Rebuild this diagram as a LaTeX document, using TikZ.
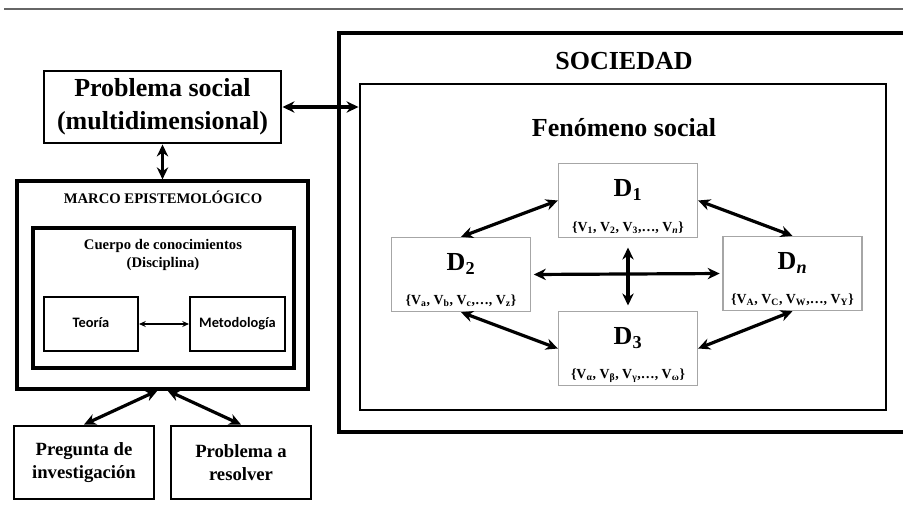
\documentclass[tikz,border=0pt]{standalone}
\usepackage{fontspec}
\setmainfont{Liberation Serif}
\newfontfamily\calfont{Carlito}
\usetikzlibrary{arrows.meta,calc}

\tikzset{every picture/.style={line width=0.75pt}}
\tikzset{
  heavybox/.style={draw, line width=2.2pt, inner sep=0pt, align=center},
  dimbox/.style={draw=black!35, line width=1pt, inner sep=0pt, minimum width=104.25pt, minimum height=55.5pt},
  bigtext/.style={inner sep=0pt, align=center, font=\fontsize{19.5}{24.75}\selectfont\bfseries},
  midtext/.style={inner sep=0pt, align=center, font=\fontsize{11}{13.5}\selectfont\bfseries},
  settext/.style={inner sep=0pt, font=\fontsize{10.4}{12.5}\selectfont\bfseries},
  smallbox/.style={heavybox, line width=1.6pt, minimum height=40.5pt, text height=1.6ex, text depth=0.5ex, font=\calfont\fontsize{10.8}{13}\selectfont\bfseries},
  twoway/.style={{Stealth[length=9pt,width=8.5pt]}-{Stealth[length=9pt,width=8.5pt]}, line width=2.4pt},
  thinway/.style={{Stealth[length=5pt,width=4.5pt]}-{Stealth[length=5pt,width=4.5pt]}, line width=1pt}
}

\begin{document}
\begin{tikzpicture}[x=0.75pt,y=0.75pt,yscale=-1,xscale=1]
\useasboundingbox (0,0) rectangle (903,515);

%Straight Lines: top rule
\draw [color=black!60, line width=1.5pt] (4,9) -- (903,9) ;

%Shape: Rectangle (left column)
\node [heavybox, minimum width=177.75pt, minimum height=54pt, font=\fontsize{19.5}{24.75}\selectfont\bfseries] (prob) at (162.5,107) {Problema social\\(multidimensional)};
\node [heavybox, line width=2.4pt, minimum width=218.25pt, minimum height=156pt] (marco) at (162.5,285) {};
\node [heavybox, line width=2.4pt, minimum width=195.75pt, minimum height=105pt] (cuerpo) at (163.5,298) {};
\node [smallbox, minimum width=70.5pt] (teoria) at (91,324) {Teoría};
\node [smallbox, minimum width=71.25pt] (metodo) at (237.5,324) {Metodología};
\node [heavybox, minimum width=105pt, minimum height=54.75pt, font=\fontsize{14}{17.25}\selectfont\bfseries] (pregunta) at (84,462.5) {Pregunta de\\investigación};
\node [heavybox, minimum width=105pt, minimum height=54.75pt, font=\fontsize{14}{17.25}\selectfont\bfseries] (resolver) at (241,462.5) {Problema a\\resolver};

% Text Node
\node [midtext] (marcot) at (163,197) {MARCO EPISTEMOLÓGICO};
% Text Node
\node [midtext] (cuerpot) at (163,255) {Cuerpo de conocimientos\\(Disciplina)};

%Shape: Rectangle (right side)
\node [heavybox, line width=2.8pt, minimum width=426pt, minimum height=299.25pt] (sociedad) at (623,232.5) {};
\node [heavybox, minimum width=394.5pt, minimum height=244.5pt] (fenomeno) at (623,247) {};

% Text Node
\node [bigtext] (sociedadt) at (624,61) {SOCIEDAD};
% Text Node
\node [bigtext] (fenomenot) at (624,128) {Fenómeno social};

%Shape: Rectangle (dimensiones)
\node [dimbox] (d1) at (628,200.5) {};
\node [dimbox] (d2) at (461,274.5) {};
\node [dimbox] (dn) at (792.5,273.5) {};
\node [dimbox] (d3) at (628,348.5) {};

% Text Node
\node [bigtext] (d1t) at (628,190) {D\textsubscript{1}};
\node [settext] (d1v) at (628,228) {\{V\textsubscript{1}, V\textsubscript{2}, V\textsubscript{3},…, V\textsubscript{\textit{n}}\}};
\node [bigtext] (d2t) at (461,264) {D\textsubscript{2}};
\node [settext] (d2v) at (461,301) {\{V\textsubscript{a}, V\textsubscript{b}, V\textsubscript{c},…, V\textsubscript{z}\}};
\node [bigtext] (dnt) at (792.5,263) {D\textsubscript{\textit{n}}};
\node [settext] (dnv) at (792.5,300) {\{V\textsubscript{A}, V\textsubscript{C}, V\textsubscript{W},…, V\textsubscript{Y}\}};
\node [bigtext] (d3t) at (628,338) {D\textsubscript{3}};
\node [settext] (d3v) at (628,376) {\{V\textsubscript{α}, V\textsubscript{β}, V\textsubscript{γ},…, V\textsubscript{ω}\}};

%Straight Lines (arrows)
\draw [twoway] (prob.east) -- (prob.east -| fenomeno.west) ;
\draw [twoway] (prob.south) -- (marco.north) ;
\draw [twoway] ($(marco.south)+(-5,0)$) -- (pregunta.north) ;
\draw [twoway] ($(marco.south)+(5,0)$) -- (resolver.north) ;
\draw [thinway] (teoria.east) -- (metodo.west) ;
\draw [twoway] (d2.north) -- (d1.west) ;
\draw [twoway] (d1.east) -- (dn.north) ;
\draw [twoway] (d2.south) -- (d3.west) ;
\draw [twoway] (dn.south) -- (d3.east) ;
\draw [twoway, shorten <=2pt, shorten >=2pt] (d2.east) -- (dn.west) ;
\draw [twoway, shorten <=7pt, shorten >=4pt] (d1.south) -- (d3.north) ;

\end{tikzpicture}
\end{document}
